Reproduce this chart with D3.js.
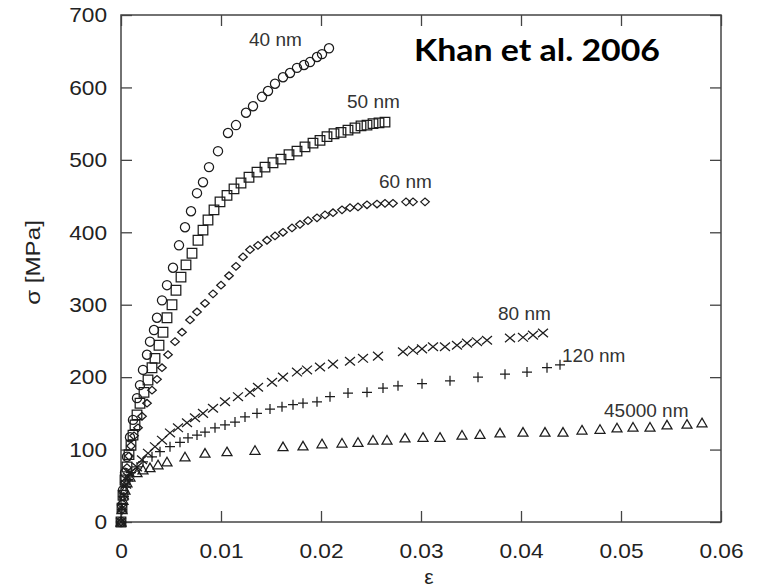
<!DOCTYPE html>
<html>
<head>
<meta charset="utf-8">
<script src="https://cdn.jsdelivr.net/npm/d3@7"></script>
<style>
  body { margin: 0; background: #fff; }
  svg { display: block; }
</style>
</head>
<body>
<div id="chart"></div>
<script>
const width = 757;
const height = 588;
const margin = {top: 15, right: 36, bottom: 66, left: 121};

// strain (eps) and stress (MPa) per grain size
const eps40 = [0, 0.0001, 0.0002, 0.0004, 0.0006, 0.0009, 0.0012, 0.0016, 0.0019, 0.0022, 0.0026, 0.0029, 0.0033, 0.0036, 0.0041, 0.0046, 0.0052, 0.0058, 0.0064, 0.007, 0.0076, 0.0082, 0.0088, 0.0097, 0.0107, 0.0115, 0.0125, 0.0132, 0.0141, 0.0147, 0.0154, 0.0162, 0.0169, 0.0176, 0.0183, 0.0189, 0.0196, 0.0201, 0.0208];
const sig40 = [0, 23, 44, 68, 90, 117, 141, 171, 189, 210, 231, 249, 265, 282, 306, 327, 351, 382, 407, 429, 454, 469, 490, 512, 537, 548, 565, 574, 587, 595, 605, 614, 620, 627, 631, 635, 642, 646, 654];

const eps50 = [0, 0.0001, 0.0002, 0.0004, 0.0006, 0.0008, 0.001, 0.0012, 0.0014, 0.0016, 0.0019, 0.0023, 0.0027, 0.0031, 0.0034, 0.0038, 0.0042, 0.0046, 0.0051, 0.0055, 0.006, 0.0065, 0.0071, 0.0077, 0.0082, 0.0087, 0.0093, 0.0099, 0.0106, 0.0113, 0.012, 0.0128, 0.0136, 0.0144, 0.0152, 0.016, 0.0168, 0.0176, 0.0184, 0.0192, 0.0199, 0.0206, 0.0213, 0.022, 0.0227, 0.0234, 0.024, 0.0246, 0.0252, 0.0258, 0.0264];
const sig50 = [0, 19, 37, 58, 76, 93, 106, 120, 134, 148, 164, 179, 196, 213, 226, 244, 262, 282, 300, 320, 338, 355, 371, 389, 403, 417, 431, 442, 451, 460, 468, 476, 483, 490, 496, 501, 507, 512, 518, 523, 527, 532, 536, 538, 541, 544, 547, 548, 550, 551, 552];

const eps60 = [0, 0.0001, 0.0002, 0.0004, 0.0006, 0.0008, 0.001, 0.0013, 0.0017, 0.0021, 0.0026, 0.0031, 0.0036, 0.0041, 0.0047, 0.0054, 0.0061, 0.0069, 0.0076, 0.0084, 0.0092, 0.01, 0.0108, 0.0115, 0.0122, 0.0129, 0.0137, 0.0146, 0.0154, 0.0162, 0.0171, 0.0179, 0.0187, 0.0196, 0.0204, 0.0212, 0.0221, 0.0229, 0.0237, 0.0246, 0.0256, 0.0264, 0.0272, 0.0285, 0.0292, 0.0304];
const sig60 = [0, 17, 35, 55, 75, 91, 105, 119, 130, 146, 164, 182, 197, 213, 231, 249, 262, 279, 290, 302, 315, 327, 340, 353, 366, 376, 382, 389, 395, 400, 406, 411, 416, 420, 424, 427, 431, 434, 435, 438, 439, 440, 440, 442, 442, 442];

const eps80 = [0, 0.0001, 0.0003, 0.0005, 0.0007, 0.0009, 0.0016, 0.0021, 0.0027, 0.0034, 0.0041, 0.0049, 0.0057, 0.0066, 0.0074, 0.0082, 0.0092, 0.0104, 0.0117, 0.0129, 0.0137, 0.0151, 0.0162, 0.0176, 0.0186, 0.0199, 0.0212, 0.0229, 0.0242, 0.0257, 0.0282, 0.0292, 0.0301, 0.0312, 0.0324, 0.0336, 0.0346, 0.0356, 0.0366, 0.0389, 0.0402, 0.0412, 0.0422];
const sig80 = [0, 19, 37, 52, 62, 68, 76, 86, 95, 104, 113, 123, 130, 137, 144, 150, 157, 166, 173, 179, 186, 193, 200, 207, 210, 214, 218, 222, 226, 229, 235, 237, 239, 242, 242, 244, 247, 249, 251, 254, 255, 258, 261];

const eps120 = [0, 0.0001, 0.0003, 0.0005, 0.0007, 0.001, 0.0016, 0.0022, 0.0031, 0.0039, 0.0049, 0.0059, 0.0067, 0.0076, 0.0084, 0.0094, 0.0104, 0.0114, 0.0124, 0.0136, 0.0149, 0.0161, 0.0172, 0.0182, 0.0196, 0.0209, 0.0227, 0.0246, 0.0262, 0.0277, 0.0301, 0.0329, 0.0357, 0.0384, 0.0406, 0.0426, 0.0439];
const sig120 = [0, 17, 35, 48, 59, 68, 76, 83, 90, 97, 104, 110, 116, 120, 124, 130, 134, 138, 145, 150, 156, 159, 162, 164, 166, 173, 178, 179, 185, 188, 191, 195, 200, 204, 207, 213, 217];

const eps45000 = [0, 0.0001, 0.0002, 0.0004, 0.0006, 0.0009, 0.0016, 0.0022, 0.0029, 0.0037, 0.0046, 0.0064, 0.0084, 0.0106, 0.0134, 0.0162, 0.0182, 0.0201, 0.0221, 0.0237, 0.0252, 0.0266, 0.0284, 0.0302, 0.0319, 0.0341, 0.0359, 0.0379, 0.0402, 0.0424, 0.0442, 0.0461, 0.0479, 0.0496, 0.0512, 0.0529, 0.0546, 0.0566, 0.0581];
const sig45000 = [0, 17, 30, 44, 54, 62, 68, 72, 75, 79, 83, 90, 95, 97, 99, 104, 105, 108, 109, 110, 113, 113, 116, 117, 117, 120, 121, 123, 124, 124, 124, 127, 128, 130, 131, 131, 134, 135, 137];

const seriesNames = ["40 nm", "50 nm", "60 nm", "80 nm", "120 nm", "45000 nm"];
// where each curve's label sits, in data units (left edge, baseline)
const labelEps = [0.0128, 0.0226, 0.0258, 0.0377, 0.0441, 0.0483];
const labelSig = [657, 572, 461, 279, 221, 145];

const xTicks = [0, 0.01, 0.02, 0.03, 0.04, 0.05, 0.06];
const yTicks = [0, 100, 200, 300, 400, 500, 600, 700];

// marker outlines, centred on 0,0
const markers = {
    circle: "M4.6,0A4.6,4.6 0 1,1 -4.6,0A4.6,4.6 0 1,1 4.6,0Z",
    square: "M-4.8,-4.8H4.8V4.8H-4.8Z",
    diamond: "M-4.3,0L0,-3.8L4.3,0L0,3.8Z",
    xcross: "M-5,-4.3L5,4.3M-5,4.3L5,-4.3",
    plus: "M-5,0H5M0,-5V5",
    triangle: "M0,-4.6L5,4L-5,4Z"
};

const series = [
    {name: seriesNames[0], eps: eps40, sig: sig40, marker: "circle"},
    {name: seriesNames[1], eps: eps50, sig: sig50, marker: "square"},
    {name: seriesNames[2], eps: eps60, sig: sig60, marker: "diamond"},
    {name: seriesNames[3], eps: eps80, sig: sig80, marker: "xcross"},
    {name: seriesNames[4], eps: eps120, sig: sig120, marker: "plus"},
    {name: seriesNames[5], eps: eps45000, sig: sig45000, marker: "triangle"}
];

const x = d3.scaleLinear().domain([0, 0.06]).range([margin.left, width - margin.right]);
const y = d3.scaleLinear().domain([0, 700]).range([height - margin.bottom, margin.top]);

const svg = d3.select("#chart")
    .append("svg")
        .attr("width", width)
        .attr("height", height)
        .attr("viewBox", [0, 0, width, height]);

// stretch text a little wider, the scanned figure is not quite square
function widen(sel, k) {
    sel.each(function() {
        const len = this.getComputedTextLength();
        if (len > 0)
            d3.select(this).attr("textLength", len * k).attr("lengthAdjust", "spacingAndGlyphs");
    });
}

const tickFont = "'Liberation Sans', Arial, Helvetica, sans-serif";

const xAxis = svg.append("g")
    .attr("transform", `translate(0,${y(0)})`)
    .call(d3.axisBottom(x).tickValues(xTicks)
        .tickFormat(d => d === 0 ? "0" : d3.format(".2f")(d))
        .tickSizeInner(-11).tickSizeOuter(0).tickPadding(21));

const yAxis = svg.append("g")
    .attr("transform", `translate(${x(0)},0)`)
    .call(d3.axisLeft(y).tickValues(yTicks)
        .tickSizeInner(-11).tickSizeOuter(0).tickPadding(14));

svg.append("g")
    .attr("transform", `translate(0,${y(700)})`)
    .call(d3.axisTop(x).tickValues(xTicks).tickFormat("")
        .tickSizeInner(-11).tickSizeOuter(0));

svg.append("g")
    .attr("transform", `translate(${x(0.06)},0)`)
    .call(d3.axisRight(y).tickValues(yTicks).tickFormat("")
        .tickSizeInner(-11).tickSizeOuter(0));

svg.selectAll(".domain").remove();
svg.selectAll(".tick line").attr("stroke", "#444").attr("stroke-width", 1.3);

[xAxis, yAxis].forEach(ax => {
    ax.selectAll("text")
        .attr("font-family", tickFont)
        .attr("font-size", 21)
        .attr("fill", "#222");
    widen(ax.selectAll("text"), 1.08);
});

// frame
svg.append("rect")
    .attr("x", x(0))
    .attr("y", y(700))
    .attr("width", x(0.06) - x(0))
    .attr("height", y(0) - y(700))
    .attr("fill", "none")
    .attr("stroke", "#444")
    .attr("stroke-width", 1.5);

// data markers
const marks = svg.append("g")
    .attr("fill", "none")
    .attr("stroke", "#1c1c1c")
    .attr("stroke-width", 1.25);

series.forEach(s => {
    const pts = s.eps.map((e, i) => [e, s.sig[i]]);
    marks.append("g")
        .selectAll("path")
        .data(pts)
        .join("path")
            .attr("transform", d => `translate(${x(d[0])},${y(d[1])})`)
            .attr("d", markers[s.marker]);
});

// curve labels
svg.append("g")
    .attr("font-family", tickFont)
    .attr("font-size", 19)
    .attr("fill", "#333")
    .selectAll("text")
    .data(seriesNames)
    .join("text")
        .attr("x", (d, i) => x(labelEps[i]))
        .attr("y", (d, i) => y(labelSig[i]))
        .text(d => d);

// axis titles
svg.append("text")
    .attr("x", 429)
    .attr("y", 584)
    .attr("text-anchor", "middle")
    .attr("font-family", tickFont)
    .attr("font-size", 21)
    .attr("fill", "#222")
    .text("ε");

const yTitle = svg.append("text")
    .attr("transform", `translate(40,${(y(0) + y(700)) / 2 - 6}) rotate(-90)`)
    .attr("text-anchor", "middle")
    .attr("font-family", tickFont)
    .attr("font-size", 21)
    .attr("fill", "#222")
    .text("σ [MPa]");
widen(yTitle, 1.15);

// citation
const title = svg.append("text")
    .attr("x", 414)
    .attr("y", 61)
    .attr("font-family", "Lato, 'Open Sans', sans-serif")
    .attr("font-weight", 700)
    .attr("font-size", 31)
    .attr("fill", "#000")
    .text("Khan et al. 2006");
title.attr("textLength", 246).attr("lengthAdjust", "spacingAndGlyphs");
</script>
</body>
</html>
